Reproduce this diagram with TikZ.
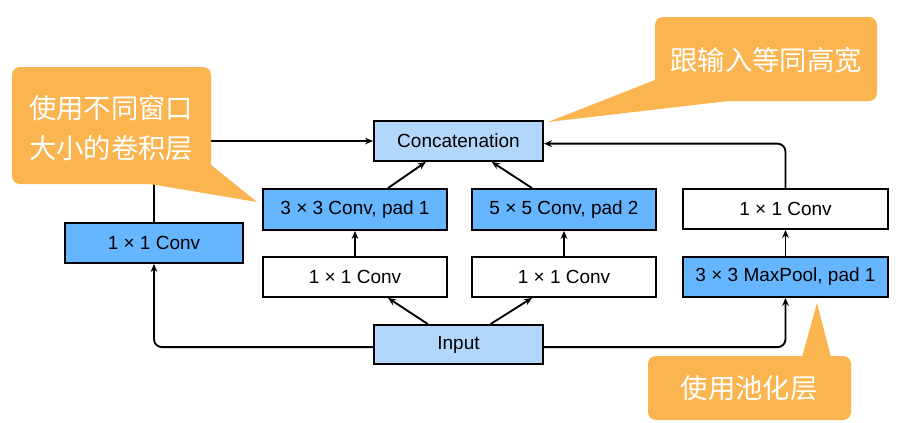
\documentclass[tikz,border=0pt]{standalone}
\usepackage{fontspec}
\setmainfont{Liberation Sans}
\newfontfamily\cjk{Noto Sans CJK SC}
\usetikzlibrary{arrows.meta,calc}
\definecolor{dblue}{RGB}{102,181,255}
\definecolor{lblue}{RGB}{179,215,250}
\definecolor{callout}{RGB}{251,181,80}
\begin{document}
\begin{tikzpicture}[x=0.75pt,y=-0.75pt,
  box/.style={draw=black,line width=1.4pt,inner sep=0pt,minimum height=30pt,font=\fontsize{14.25}{16}\selectfont},
  arr/.style={line width=1.4pt,-{Stealth[length=6pt,width=5pt]}},
  ctext/.style={text=white,font=\cjk\fontsize{20.5}{30}\selectfont,align=center,inner sep=0pt}]
\useasboundingbox (0,0) rectangle (921,422);
\fill[white] (0,0) rectangle (921,422);
% boxes
\node[box,fill=lblue,minimum width=126.75pt] (concat) at (458.5,141) {Concatenation};
\node[box,fill=lblue,minimum width=126.75pt,minimum height=29.25pt] (input) at (458.5,344.5) {Input};
\node[box,fill=dblue,minimum width=138pt,minimum height=30.75pt] (c3) at (355,209.5) {3 × 3 Conv, pad 1};
\node[box,fill=dblue,minimum width=138pt,minimum height=30.75pt] (c5) at (564,209.5) {5 × 5 Conv, pad 2};
\node[box,fill=white,minimum width=138pt] (a1) at (355,277) {1 × 1 Conv};
\node[box,fill=white,minimum width=138pt] (b1) at (564,277) {1 × 1 Conv};
\node[box,fill=white,minimum width=153.75pt] (p1) at (785.5,209) {1 × 1 Conv};
\node[box,fill=dblue,minimum width=153.75pt] (mp) at (785.5,277) {3 × 3 MaxPool, pad 1};
\node[box,fill=dblue,minimum width=133.5pt] (l1) at (154,243) {1 × 1 Conv};
% connectors
\draw[arr,rounded corners=6pt] ([yshift=-2pt]input.west) -| (l1.south);
\draw[arr,rounded corners=6pt] ([yshift=-2pt]input.east) -| (mp.south);
\draw[arr] ([xshift=-23pt]input.north) -- ([xshift=24.75pt]a1.south);
\draw[arr] ([xshift=24pt]input.north) -- ([xshift=-24pt]b1.south);
\draw[arr] (a1.north) -- (c3.south);
\draw[arr] (b1.north) -- (c5.south);
\draw[arr] (mp.north) -- (p1.south);
\draw[arr] ([xshift=24.75pt]c3.north) -- ([xshift=-24.5pt]concat.south);
\draw[arr] ([xshift=-24pt]c5.north) -- ([xshift=25pt]concat.south);
\draw[arr] (l1.north) |- (concat.west);
\draw[arr,rounded corners=6pt] (p1.north) |- ([yshift=-2pt]concat.east);
% callouts
\fill[callout,rounded corners=6pt] (12,67) rectangle (211,184);
\fill[callout] (205,160) -- (257,202) -- (150,184) -- (205,184) -- cycle;
\node[ctext] (t1) at (111,128) {使用不同窗口\\大小的卷积层};
\fill[callout,rounded corners=6pt] (655,17) rectangle (877,101);
\fill[callout] (660,78) -- (548,122) -- (737,100) -- (660,100) -- cycle;
\node[ctext] (t2) at (766,60) {跟输入等同高宽};
\fill[callout,rounded corners=6pt] (648,356) rectangle (851,420);
\fill[callout] (802,357) -- (817,303) -- (831,357) -- cycle;
\node[ctext] (t3) at (749,388) {使用池化层};
\end{tikzpicture}
\end{document}
